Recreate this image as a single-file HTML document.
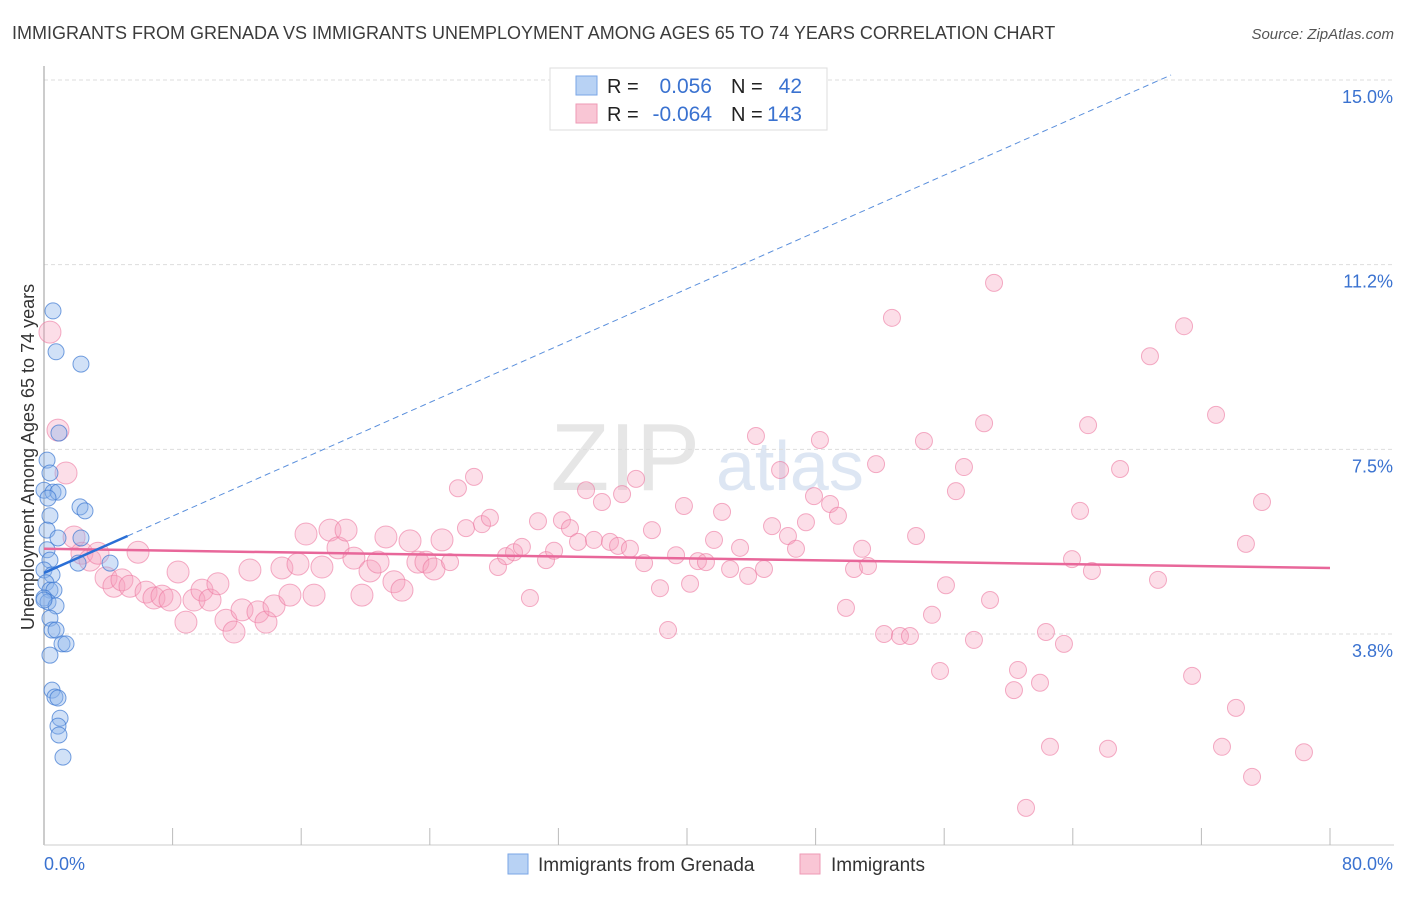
<!DOCTYPE html>
<html><head><meta charset="utf-8">
<style>
html,body{margin:0;padding:0;background:#fff;}
body{width:1406px;height:892px;overflow:hidden;font-family:"Liberation Sans",sans-serif;}
svg text{font-family:"Liberation Sans",sans-serif;}
</style></head>
<body>
<svg id="chart" width="1406" height="892">
  <text x="12" y="39" font-size="18" fill="#3c3c3c">IMMIGRANTS FROM GRENADA VS IMMIGRANTS UNEMPLOYMENT AMONG AGES 65 TO 74 YEARS CORRELATION CHART</text>
  <text x="1394" y="39" font-size="15" fill="#555" font-style="italic" text-anchor="end">Source: ZipAtlas.com</text>
  <text x="700" y="490" font-size="96" fill="#e6e6e6" text-anchor="end" font-family="Liberation Serif">ZIP</text>
  <text x="716" y="490" font-size="70" fill="#dde6f3">atlas</text>
  <g id="grid"></g>
  <g id="axes"></g>
  <g id="pink"></g>
  <g id="blue"></g>
  <g id="trends"></g>
  <g>
    <rect x="550" y="68" width="277" height="62" fill="#fff" stroke="#ddd"/>
    <rect x="576" y="76" width="21" height="19" fill="#b8d2f4" stroke="#7aa6e6"/>
    <rect x="576" y="104" width="21" height="19" fill="#f9c6d5" stroke="#ee9ab5"/>
    <text x="607" y="93" font-size="20" fill="#222">R =</text>
    <text x="712" y="93" font-size="21" fill="#3a72d0" text-anchor="end">0.056</text>
    <text x="731" y="93" font-size="20" fill="#222">N =</text>
    <text x="802" y="93" font-size="21" fill="#3a72d0" text-anchor="end">42</text>
    <text x="607" y="121" font-size="20" fill="#222">R =</text>
    <text x="712" y="121" font-size="21" fill="#3a72d0" text-anchor="end">-0.064</text>
    <text x="731" y="121" font-size="20" fill="#222">N =</text>
    <text x="802" y="121" font-size="21" fill="#3a72d0" text-anchor="end">143</text>
  </g>
  <g>
    <rect x="508" y="854" width="20" height="20" fill="#b8d2f4" stroke="#7aa6e6"/>
    <text x="538" y="871" font-size="19" fill="#333">Immigrants from Grenada</text>
    <rect x="800" y="854" width="20" height="20" fill="#f9c6d5" stroke="#ee9ab5"/>
    <text x="831" y="871" font-size="19" fill="#333">Immigrants</text>
  </g>
</svg>
<script>
const yTicks = [15.0, 11.25, 7.5, 3.75];
const yTickLabels = ["15.0%", "11.2%", "7.5%", "3.8%"];
const xTickCount = 10;
const xEndLabels = ["0.0%", "80.0%"];
const pinkX = [0.37,0.87,1.37,1.87,2.36,2.86,3.36,3.86,4.35,4.85,5.35,5.85,6.35,6.84,7.34,7.84,8.34,8.83,9.33,9.83,10.33,10.82,11.32,11.82,12.32,12.81,13.31,13.81,14.31,14.8,15.3,15.8,16.3,16.8,17.29,17.79,18.29,18.79,19.28,19.78,20.28,20.78,21.27,21.77,22.27,22.77,23.26,23.76,24.26,24.76,25.26,25.75,26.25,26.75,27.25,27.74,28.24,28.74,29.24,29.73,30.23,30.73,31.23,31.73,32.22,32.72,33.22,33.72,34.21,34.71,35.21,35.71,35.96,36.45,36.83,37.33,37.82,38.32,38.82,39.32,39.81,40.19,40.68,41.18,41.68,42.18,42.68,43.3,43.8,44.29,44.79,45.29,45.79,46.28,46.78,47.4,47.9,48.27,48.9,49.39,49.89,50.39,50.89,51.26,51.76,52.26,52.75,53.25,53.87,54.25,54.74,55.24,55.74,56.11,56.73,57.23,57.85,58.48,58.85,59.1,60.34,60.59,61.09,61.96,62.33,62.58,63.45,63.95,64.45,64.95,65.19,66.19,66.94,68.8,69.3,70.92,71.42,72.91,73.28,74.15,74.77,75.15,75.77,78.38];
const pinkY = [9.88,7.89,7.02,5.72,5.39,5.25,5.39,4.89,4.72,4.85,4.72,5.41,4.60,4.48,4.52,4.44,5.01,3.99,4.44,4.64,4.44,4.77,4.03,3.79,4.24,5.05,4.20,3.99,4.32,5.09,4.54,5.17,5.78,4.54,5.11,5.86,5.50,5.86,5.29,4.54,5.03,5.21,5.72,4.81,4.64,5.64,5.21,5.21,5.07,5.66,5.21,6.71,5.90,6.94,5.98,6.11,5.11,5.33,5.41,5.52,4.48,6.04,5.25,5.44,6.06,5.90,5.62,6.67,5.66,6.43,5.62,5.54,6.59,5.48,6.90,5.19,5.86,4.68,3.83,5.35,6.35,4.77,5.23,5.21,5.66,6.23,5.07,5.50,4.93,7.77,5.07,5.94,7.08,5.74,5.48,6.02,6.55,7.69,6.39,6.15,4.28,5.07,5.48,5.13,7.20,3.75,10.17,3.71,3.71,5.74,7.67,4.14,3.00,4.74,6.65,7.14,3.63,8.03,4.44,10.88,2.61,3.02,0.22,2.76,3.79,1.46,3.55,5.27,6.25,7.99,5.03,1.42,7.10,9.39,4.85,10.00,2.90,8.20,1.46,2.25,5.58,0.85,6.43,1.35];
const blueX = [0.56,0.75,2.30,0.93,0.19,0.37,0,0.56,0.87,0.25,2.24,2.55,0.37,0.19,0.87,2.30,0.19,0.37,2.12,4.11,0,0.5,0.12,0.37,0.62,0,0.25,0.75,0.37,0.5,0.75,1.12,1.37,0.37,0.5,0.68,0.87,1.0,0.87,0.93,1.18,0];
const blueY = [10.31,9.48,9.23,7.83,7.28,7.02,6.67,6.63,6.63,6.51,6.33,6.25,6.15,5.86,5.70,5.70,5.46,5.25,5.19,5.19,5.05,4.95,4.79,4.64,4.64,4.48,4.40,4.32,4.07,3.83,3.83,3.55,3.55,3.32,2.61,2.47,2.45,2.04,1.88,1.70,1.25,4.44];
const pinkTrend = [5.48, 5.09];      // y at x=0 and x=80
const blueTrend = [4.99, 0.1442];    // intercept, slope
const blueSolidEnd = 5.2;

const NS = "http://www.w3.org/2000/svg";
const X0 = 44, X1 = 1330;
function xs(v){ return X0 + v/80*(X1-X0); }
function ys(v){ return 634 - (v-3.75)*49.25; }
function mk(tag, attrs, parent){
  const e = document.createElementNS(NS, tag);
  for (const k in attrs) e.setAttribute(k, attrs[k]);
  parent.appendChild(e); return e;
}
const grid = document.getElementById('grid');
yTicks.forEach((t,i)=>{
  const l = mk('line',{x1:44,x2:1394,y1:ys(t),y2:ys(t),stroke:'#ddd','stroke-dasharray':'4,3'},grid);
  
  
  const tx = mk('text',{x:1393,y:ys(t)+23,'font-size':18,fill:'#3a72d0','text-anchor':'end'},grid);
  tx.textContent = yTickLabels[i];
  
  
});
const axes = document.getElementById('axes');
const ya = mk('line',{x1:44,x2:44,y1:66,y2:845,stroke:'#aaa','stroke-width':1.2},axes);


const xa = mk('line',{x1:44,x2:1394,y1:845,y2:845,stroke:'#ccc'},axes);


for(let i=1;i<=xTickCount;i++){
  const v = i*80/xTickCount;
  const t = mk('line',{x1:xs(v),x2:xs(v),y1:828,y2:845,stroke:'#bbb'},axes);
  
  
}
const xl0 = mk('text',{x:44,y:870,'font-size':18,fill:'#3a72d0'},axes);
xl0.textContent = xEndLabels[0];


const xl1 = mk('text',{x:1393,y:870,'font-size':18,fill:'#3a72d0','text-anchor':'end'},axes);
xl1.textContent = xEndLabels[1];


const yt = mk('text',{x:0,y:0,'font-size':18,fill:'#333','text-anchor':'middle',transform:'translate(34,457) rotate(-90)'},axes);
yt.textContent = 'Unemployment Among Ages 65 to 74 years';



const pg = document.getElementById('pink');
pinkX.forEach((x,i)=>{
  const r = x < 25 ? 11 : 8.5;
  const c = mk('circle',{cx:xs(x),cy:ys(pinkY[i]),r:r,fill:'rgba(246,160,188,0.35)',stroke:'rgba(236,120,160,0.6)','stroke-width':1},pg);
  
  
});
const bg = document.getElementById('blue');
blueX.forEach((x,i)=>{
  const c = mk('circle',{cx:xs(x),cy:ys(blueY[i]),r:8,fill:'rgba(140,180,236,0.4)',stroke:'rgba(60,120,210,0.7)','stroke-width':1},bg);
  
  
});
const tg = document.getElementById('trends');
const pl = mk('line',{x1:xs(0),y1:ys(pinkTrend[0]),x2:xs(80),y2:ys(pinkTrend[1]),stroke:'#e8679a','stroke-width':2.5},tg);


const bEnd = (15.1 - blueTrend[0]) / blueTrend[1];
const bd = mk('line',{x1:xs(blueSolidEnd),y1:ys(blueTrend[0]+blueTrend[1]*blueSolidEnd),x2:xs(bEnd),y2:ys(blueTrend[0]+blueTrend[1]*bEnd),stroke:'#5a8fdc','stroke-width':1,'stroke-dasharray':'6,4'},tg);


const bs = mk('line',{x1:xs(0),y1:ys(blueTrend[0]),x2:xs(blueSolidEnd),y2:ys(blueTrend[0]+blueTrend[1]*blueSolidEnd),stroke:'#2a6fd6','stroke-width':2.5},tg);


</script>
</body></html>
